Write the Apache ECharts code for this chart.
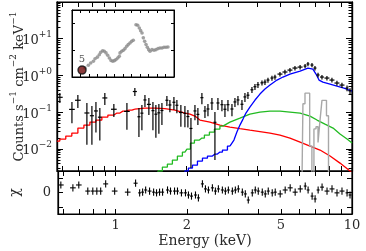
<!DOCTYPE html>
<html><head><meta charset="utf-8">
<script src="https://cdn.jsdelivr.net/npm/echarts@6/dist/echarts.min.js"></script>
<style>html,body{margin:0;padding:0;background:#fff}#c{width:366px;height:251px}</style>
</head><body><div id="c"></div>
<script>
// ---- observed spectrum (keV, counts s^-1 cm^-2 keV^-1) ----
const energy = [0.586,0.659,0.698,0.762,0.800,0.832,0.864,0.907,0.990,1.124,1.214,1.263,1.300,1.339,1.391,1.447,1.489,1.533,1.579,1.657,1.706,1.774,1.826,1.898,1.974,2.032,2.093,2.176,2.239,2.328,2.398,2.469,2.566,2.642,2.720,2.828,2.912,2.998,3.117,3.209,3.304,3.435,3.536,3.640,3.785,3.897,4.012,4.172,4.295,4.422,4.597,4.733,4.968,5.215,5.475,5.747,6.04,6.34,6.52,6.78,6.98,7.19,7.47,7.84,8.23,8.64,9.07,9.53,9.81];
const flux = [0.254,0.119,0.211,0.095,0.080,0.108,0.073,0.244,0.120,0.105,0.365,0.075,0.094,0.215,0.163,0.110,0.088,0.096,0.111,0.211,0.157,0.186,0.154,0.098,0.093,0.076,0.036,0.108,0.087,0.248,0.108,0.122,0.178,0.053,0.178,0.160,0.120,0.160,0.122,0.190,0.215,0.164,0.260,0.290,0.407,0.492,0.558,0.63,0.66,0.75,0.85,0.905,1.09,1.24,1.40,1.59,1.69,1.80,2.05,1.92,1.59,1.03,0.905,0.849,0.749,0.621,0.547,0.454,0.38];
const fluxErr = [0.077,0.069,0.082,0.082,0.067,0.080,0.056,0.088,0.046,0.072,0.090,0.054,0.062,0.077,0.079,0.078,0.068,0.070,0.066,0.064,0.057,0.072,0.060,0.058,0.054,0.038,0.033,0.048,0.042,0.083,0.039,0.044,0.064,0.048,0.064,0.054,0.046,0.054,0.044,0.052,0.060,0.050,0.072,0.063,0.076,0.092,0.10,0.10,0.11,0.12,0.13,0.14,0.16,0.18,0.20,0.22,0.23,0.24,0.27,0.26,0.22,0.15,0.13,0.12,0.11,0.10,0.09,0.08,0.07];
const chi = [2.1,1.3,2.1,0.4,0.4,0.4,0.4,2.4,0.4,0.1,2.6,-0.1,0.1,0.7,0.4,0.1,-0.1,0.1,0.1,0.7,0.4,0.4,0.4,-0.1,-0.1,-0.7,-1.0,-0.7,-1.5,2.4,1.0,0.7,1.3,0.4,1.0,0.7,0.4,0.7,0.4,0.7,1.0,0.1,-0.4,-2.1,-0.1,0.7,0.4,0.1,-0.4,0.4,-0.1,0.1,-0.4,0.7,1.3,0.1,1.0,1.8,0.7,-1.0,-1.8,0.7,1.5,0.4,1.0,-0.1,0.4,-0.1,-0.7];

// ---- model components ----
const redE = [0.569,0.603,0.639,0.678,0.719,0.762,0.808,0.856,0.907,0.962,1.020,1.081,1.146,1.214,1.339,1.475,1.625,1.791,1.974,2.073,2.176,2.284,2.517,2.773,3.056,3.368,3.71,4.09,4.51,4.97,5.475,6.04,6.65,7.33,8.08,8.90,9.81,10.0];
const redF = [0.0163,0.0185,0.0223,0.0270,0.0369,0.0445,0.0537,0.0610,0.0735,0.0834,0.0945,0.107,0.114,0.121,0.129,0.129,0.125,0.114,0.0945,0.0887,0.0783,0.061,0.0537,0.0445,0.0393,0.0357,0.0325,0.0296,0.0270,0.0238,0.0197,0.0153,0.0119,0.0093,0.0064,0.0041,0.0025,0.0022];
const greenE = [1.50,1.548,1.625,1.706,1.791,1.880,1.974,2.052,2.113,2.218,2.328,2.444,2.566,2.694,2.855,3.056,3.368,3.71,4.09,4.51,4.97,5.475,6.04,6.65,7.12,7.69,8.32,8.90,9.53,10.0];
const greenF = [0.002,0.0025,0.00319,0.00385,0.00495,0.00637,0.00818,0.00988,0.0144,0.0174,0.0197,0.0238,0.0287,0.0347,0.0418,0.0537,0.0690,0.0887,0.1007,0.107,0.107,0.1007,0.0945,0.0783,0.061,0.0474,0.0369,0.0253,0.0185,0.0144];
const blueE = [1.95,2.01,2.073,2.176,2.284,2.398,2.517,2.642,2.773,2.912,3.056,3.178,3.27,3.368,3.47,3.57,3.71,3.90,4.09,4.295,4.51,4.826,5.115,5.475,6.04,6.52,6.84,7.05,7.26,7.54,8.08,8.64,9.25,10.0];
const blueF = [0.002,0.0025,0.003,0.0036,0.00466,0.0056,0.00637,0.00722,0.00818,0.0093,0.0119,0.0174,0.0287,0.0445,0.0648,0.0945,0.138,0.214,0.311,0.426,0.547,0.749,0.905,1.09,1.32,1.59,1.49,1.09,0.749,0.661,0.583,0.514,0.454,0.376];
const grayE = [6.0,6.15,6.27,6.40,6.55,6.71,6.84,6.98,7.12,7.26,7.40,7.54,7.73,7.88,8.04,8.2];
const grayF = [0.001,0.001,0.17,0.33,0.33,0.012,0.001,0.035,0.04,0.015,0.06,0.21,0.21,0.08,0.001,0.001];
// energies above which each binned model is drawn as a smooth curve
const redStepEnd = 1.214, greenStepEnd = 2.855, blueStepEnd = 3.056;

// ---- inset light curve ----
const insetX = [1.53,1.92,2.2,2.51,2.71,2.98,3.21,3.38,3.61,3.8,4.0,4.2,4.39,4.59,4.79,4.98,5.18,5.38,5.56,5.65,5.85,6.04,6.24,6.44,6.62,6.82,7.02,7.21,7.53,7.73,7.92,8.08,8.24,8.39,8.55,8.71,8.86,9.02,9.18,9.41,9.65,9.88,10.12,10.35,10.59,10.82,11.06,11.29];
const insetY = [0.34,0.44,0.52,0.59,0.68,0.74,0.83,0.92,0.98,0.96,0.90,0.81,0.71,0.62,0.59,0.61,0.65,0.71,0.77,0.90,0.96,1.0,1.06,1.15,1.21,1.27,1.33,1.37,1.95,1.93,1.83,1.73,1.64,1.46,1.33,1.21,1.11,1.02,0.96,1.02,1.0,1.02,1.06,1.08,1.08,1.11,1.11,1.12];
const markX = [1.18];
const markY = [0.26];
const markLabel = ['5'];

// ---- ticks ----
const xMajorTicks = [1, 2, 5, 10];
const xMinorTicks = [0.6, 0.7, 0.8, 0.9, 3, 4, 6, 7, 8, 9];
const yDecades = [0.01, 0.1, 1, 10];
const resTicks = [-4, 0, 4];
const resLabels = [0];

const yMinorTicks = [];
[0.001, 0.01, 0.1, 1, 10].forEach(d => { for (let k = 2; k <= 9; k++) { const v = +(d * k).toPrecision(3); if (v >= 0.0025 && v <= 100) yMinorTicks.push(v); } });
const xAllTicks = xMajorTicks.concat(xMinorTicks);

const FONT = 'DejaVu Serif';
const TXT = '#2a2a2a';

function halfWidths(E) {
  return E.map((e, i) => {
    const gl = i > 0 ? Math.log10(e / E[i - 1]) : Infinity;
    const gr = i < E.length - 1 ? Math.log10(E[i + 1] / e) : Infinity;
    return Math.pow(10, Math.min(gl, gr, 0.024) / 2);
  });
}
const hw = halfWidths(energy);

function tick(len, values) {
  const t = { show: true, inside: true, length: len, lineStyle: { color: '#000', width: 1 } };
  if (values) t.customValues = values;
  return t;
}
function ax(o) {
  return Object.assign({
    axisLine: { show: true, onZero: false, lineStyle: { color: '#000', width: 1.2 } },
    splitLine: { show: false },
    axisLabel: { show: false },
    silent: true,
    nameMoveOverlap: false
  }, o);
}
const xMain = { type: 'log', logBase: 10, min: 0.57, max: 10 };
const yMain = { type: 'log', logBase: 10, min: 0.0025, max: 100 };

function errItem(color) {
  return function (params, api) {
    const E = api.value(0), F = api.value(1), err = api.value(2), h = api.value(3);
    const pt = api.coord([E, F + err]);
    const pb = api.coord([E, Math.max(F - err, 1e-6)]);
    const pl = api.coord([E / h, F]);
    const pr = api.coord([E * h, F]);
    return { type: 'group', children: [
      { type: 'line', shape: { x1: pt[0], y1: pt[1], x2: pb[0], y2: pb[1] }, style: { stroke: color, lineWidth: 1.2 } },
      { type: 'line', shape: { x1: pl[0], y1: pl[1], x2: pr[0], y2: pr[1] }, style: { stroke: color, lineWidth: 1.2 } }
    ] };
  };
}
function resItem(params, api) {
  const E = api.value(0), c = api.value(1), h = api.value(2);
  const pt = api.coord([E, c + 1]);
  const pb = api.coord([E, c - 1]);
  const pl = api.coord([E / h, c]);
  const pr = api.coord([E * h, c]);
  return { type: 'group', children: [
    { type: 'line', shape: { x1: pt[0], y1: pt[1], x2: pb[0], y2: pb[1] }, style: { stroke: '#000', lineWidth: 1.1 } },
    { type: 'line', shape: { x1: pl[0], y1: pl[1], x2: pr[0], y2: pr[1] }, style: { stroke: '#000', lineWidth: 1.1 } }
  ] };
}
function modelLine(E, F, color, w, step, keep) {
  const data = [];
  E.forEach((e, i) => { if (keep(e)) data.push([e, F[i]]); });
  return { type: 'line', xAxisIndex: 0, yAxisIndex: 0, step: step, symbol: 'none', showSymbol: false,
    clip: true, lineStyle: { color: color, width: w || 1.3 }, data: data, z: 3 };
}
function splitModel(E, F, color, end) {
  return [
    modelLine(E, F, color, 1.3, 'middle', e => e <= end),
    modelLine(E, F, color, 1.3, false, e => e >= end)
  ];
}

const chart = echarts.init(document.getElementById('c'), null, { renderer: 'canvas' });
chart.setOption({
  animation: false,
  backgroundColor: '#fff',
  grid: [
    { left: 57, top: 2, width: 295, height: 169, show: true, borderColor: '#000', borderWidth: 1.2, backgroundColor: 'transparent' },
    { left: 57, top: 171, width: 295, height: 43, show: true, borderColor: '#000', borderWidth: 1.2, backgroundColor: 'transparent' },
    { left: 72, top: 10, width: 102, height: 67, show: true, borderColor: '#000', borderWidth: 1, backgroundColor: '#fff', z: 5 }
  ],
  xAxis: [
    ax(Object.assign({ gridIndex: 0, position: 'bottom', axisTick: tick(5, xAllTicks) }, xMain)),
    ax(Object.assign({ gridIndex: 0, position: 'top', axisTick: tick(5, xAllTicks) }, xMain)),
    ax(Object.assign({ gridIndex: 1, position: 'bottom', axisTick: tick(5, xAllTicks),
      axisLabel: { show: true, customValues: xMajorTicks, formatter: v => String(Math.round(v)), margin: 5, fontFamily: FONT, fontSize: 13, color: TXT },
      name: 'Energy (keV)', nameLocation: 'middle', nameGap: 20, nameTextStyle: { fontFamily: FONT, fontSize: 14, color: TXT } }, xMain)),
    ax(Object.assign({ gridIndex: 1, position: 'top', axisTick: tick(5, xAllTicks) }, xMain)),
    ax({ gridIndex: 2, position: 'bottom', type: 'value', min: 0, max: 12, interval: 1, axisTick: tick(3), axisLine: { show: true, onZero: false, lineStyle: { color: '#000', width: 1 } }, z: 6 }),
    ax({ gridIndex: 2, position: 'top', type: 'value', min: 0, max: 12, interval: 1, axisTick: tick(3), axisLine: { show: true, onZero: false, lineStyle: { color: '#000', width: 1 } }, z: 6 })
  ],
  yAxis: [
    ax(Object.assign({ gridIndex: 0, position: 'left', axisTick: tick(6, yDecades),
      axisLabel: { show: true, customValues: yDecades, margin: 5, fontFamily: FONT, color: TXT,
        formatter: v => { const e = Math.round(Math.log10(v)); return '{b|10}{s|' + (e >= 0 ? '+' : '\u2212') + Math.abs(e) + '}'; },
        rich: { b: { fontFamily: FONT, fontSize: 13, color: TXT, lineHeight: 17, verticalAlign: 'bottom' },
                s: { fontFamily: FONT, fontSize: 9, color: TXT, lineHeight: 17, verticalAlign: 'top' } } },
      name: '{n|Counts s}{s|\u22121}{n| cm}{s|\u22122}{n| keV}{s|\u22121}', nameLocation: 'middle', nameRotate: 90, nameGap: 31,
      nameTextStyle: { fontFamily: FONT, fontSize: 13, color: TXT,
        rich: { n: { fontFamily: FONT, fontSize: 13, color: TXT, lineHeight: 17, verticalAlign: 'bottom' },
                s: { fontFamily: FONT, fontSize: 9, color: TXT, lineHeight: 17, verticalAlign: 'top' } } } }, yMain)),
    ax(Object.assign({ gridIndex: 0, position: 'left', axisTick: tick(3.5, yMinorTicks) }, yMain)),
    ax(Object.assign({ gridIndex: 0, position: 'right', axisTick: tick(6, yDecades) }, yMain)),
    ax(Object.assign({ gridIndex: 0, position: 'right', axisTick: tick(3.5, yMinorTicks) }, yMain)),
    ax({ gridIndex: 1, position: 'left', type: 'value', min: -6, max: 6, axisTick: tick(5, resTicks),
      axisLabel: { show: true, customValues: resLabels, margin: 7, fontFamily: FONT, fontSize: 13, color: TXT },
      name: '\u03c7', nameLocation: 'middle', nameRotate: 90, nameGap: 36, nameTextStyle: { fontFamily: FONT, fontSize: 14, color: TXT } }),
    ax({ gridIndex: 1, position: 'right', type: 'value', min: -6, max: 6, axisTick: tick(5, resTicks) }),
    ax({ gridIndex: 2, position: 'left', type: 'value', min: 0, max: 2.5, interval: 1, axisTick: tick(3), axisLine: { show: true, onZero: false, lineStyle: { color: '#000', width: 1 } }, z: 6 }),
    ax({ gridIndex: 2, position: 'right', type: 'value', min: 0, max: 2.5, interval: 1, axisTick: tick(3), axisLine: { show: true, onZero: false, lineStyle: { color: '#000', width: 1 } }, z: 6 })
  ],
  series: [].concat(
    splitModel(redE, redF, '#ff0000', redStepEnd),
    splitModel(greenE, greenF, '#22bb22', greenStepEnd),
    [modelLine(grayE, grayF, '#a8a8a8', 1.4, 'middle', () => true)],
    splitModel(blueE, blueF, '#0000ff', blueStepEnd),
    [
    { type: 'custom', xAxisIndex: 0, yAxisIndex: 0, clip: true, z: 4, renderItem: errItem('#000'),
      encode: { x: 0, y: 1 }, data: energy.map((e, i) => [e, flux[i], fluxErr[i], hw[i]]) },
    { type: 'custom', xAxisIndex: 2, yAxisIndex: 4, clip: true, z: 4, renderItem: resItem,
      encode: { x: 0, y: 1 }, data: energy.map((e, i) => [e, chi[i], hw[i]]) },
    { type: 'scatter', xAxisIndex: 4, yAxisIndex: 6, symbol: 'circle', symbolSize: 3.6, z: 7,
      itemStyle: { color: '#8a8a8a' }, data: insetX.map((x, i) => [x, insetY[i]]) },
    { type: 'scatter', xAxisIndex: 4, yAxisIndex: 6, symbol: 'circle', symbolSize: 8, z: 8,
      itemStyle: { color: '#6e0a0a', borderColor: '#111', borderWidth: 1.5 },
      label: { show: true, position: 'top', distance: 1, formatter: p => markLabel[p.dataIndex], fontFamily: FONT, fontSize: 10, color: TXT },
      data: markX.map((x, i) => [x, markY[i]]) }
    ]
  )
});
</script>
</body></html>
